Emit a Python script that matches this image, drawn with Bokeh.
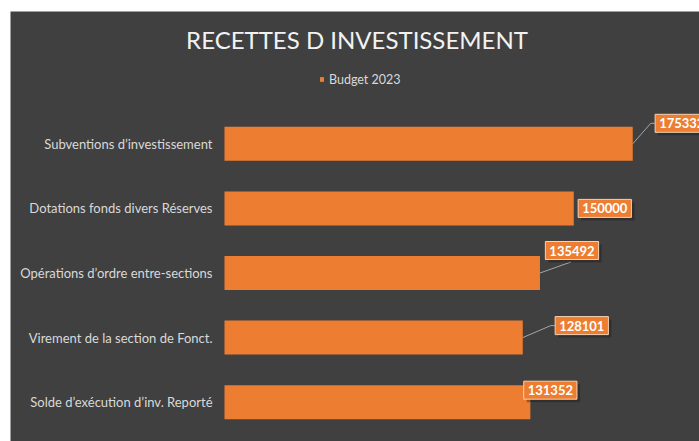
from bokeh.plotting import figure
from bokeh.models import Range1d, Label, Legend, LegendItem, ColumnDataSource
from bokeh.core.properties import value
from bokeh.embed import file_html
from bokeh.resources import INLINE

# ---- data ----
title_text = "RECETTES D INVESTISSEMENT"
series_name = "Budget 2023"
categories = [
    "Subventions d\u2019investissement",
    "Dotations fonds divers Réserves",
    "Opérations d\u2019ordre entre-sections",
    "Virement de la section de Fonct.",
    "Solde d\u2019exécution d\u2019inv. Reporté",
]
budget_2023 = [175332, 150000, 135492, 128101, 131352]

# ---- style: data-label box offsets from bar end, in pixels (neg = up) ----
label_dx = [49, 31, 32, 59, 20]
label_dy = [-20.5, 0, -22.5, -12, -12]
BOX_HW, BOX_HH = 27, 11.5

ORANGE = "#ED7D31"
BG = "#404040"
TXT = "#d9d9d9"

W, H = 689, 430
LEFT, TOP, BOTTOM = 214, 100, 7       # plotting area inside the figure (px)
PLOT_W = W - LEFT
X_END = 204000
N = len(categories)
ux = X_END / PLOT_W                    # data units per px (x)
uy = N / (H - TOP - BOTTOM)            # data units per px (y)

ypos = [N - 1 - i for i in range(N)]

src = ColumnDataSource(dict(
    y=ypos, value=budget_2023, cat=categories,
    label=[str(v) for v in budget_2023],
    dx=label_dx, dy=label_dy,
    sdx=[d + 3 for d in label_dx], sdy=[d + 3 for d in label_dy],
))

p = figure(width=W, height=H, margin=(11, 0, 0, 10),
           x_range=Range1d(-LEFT * ux, X_END),
           y_range=Range1d(-0.5 - BOTTOM * uy, N - 0.5 + TOP * uy),
           output_backend="svg", toolbar_location=None,
           min_border=0)
p.background_fill_color = BG
p.border_fill_color = BG
p.outline_line_color = None
p.xgrid.visible = False
p.ygrid.visible = False
p.xaxis.visible = False
p.yaxis.visible = False

bars = p.hbar(y="y", right="value", left=0, height=0.526, source=src,
              fill_color=ORANGE, line_color=None)

# category labels
p.text(x=0, y="y", text="cat", source=src, x_offset=-12,
       text_align="right", text_baseline="middle", text_font=value("Lato"),
       text_font_size="13px", text_color=TXT)

# leader lines
xs, ys = [], []
for v, y, dx, dy in zip(budget_2023, ypos, label_dx, label_dy):
    box_left = dx - BOX_HW
    box_bottom = dy + BOX_HH
    if box_left > 8:
        xs.append([v, v + (box_left - 4) * ux, v + box_left * ux])
        ys.append([y, y - dy * uy, y - dy * uy])
    elif box_bottom < -8:
        xs.append([v, v + (dx - 1) * ux])
        ys.append([y, y - box_bottom * uy])
p.multi_line(xs=xs, ys=ys, line_color="#a6a6a6", line_width=1)

pad = dict(left=4, right=4, top=4, bottom=4)
# shadow
p.text(x="value", y="y", text="label", x_offset="sdx", y_offset="sdy", source=src,
       anchor="center", text_font=value("Lato"), text_font_style="bold",
       text_font_size="13px", text_alpha=0, padding=pad,
       background_fill_color="#1a1a1a", background_fill_alpha=0.4)
p.text(x="value", y="y", text="label", x_offset="dx", y_offset="dy", source=src,
       anchor="center", text_font=value("Lato"), text_font_style="bold",
       text_font_size="13px", text_color="white", padding=pad,
       background_fill_color=ORANGE, border_line_color="#f6d2b5", border_line_width=1)

# title
p.add_layout(Label(x=346.5, y=H - 28, x_units="screen", y_units="screen", text=title_text,
                   text_align="center", text_baseline="middle", text_font="Lato",
                   text_font_size="24px", text_color="#f2f2f2"))

legend = Legend(items=[LegendItem(label=series_name, renderers=[bars])],
                location=(309, H - 75.5), orientation="horizontal",
                glyph_width=5, glyph_height=6, label_text_font_size="12.5px",
                label_text_color=TXT, label_text_font="Lato",
                background_fill_alpha=0, border_line_alpha=0, padding=0, margin=0,
                label_standoff=5, label_height=14)
p.add_layout(legend)

open("out.html", "w").write(file_html(p, INLINE))
